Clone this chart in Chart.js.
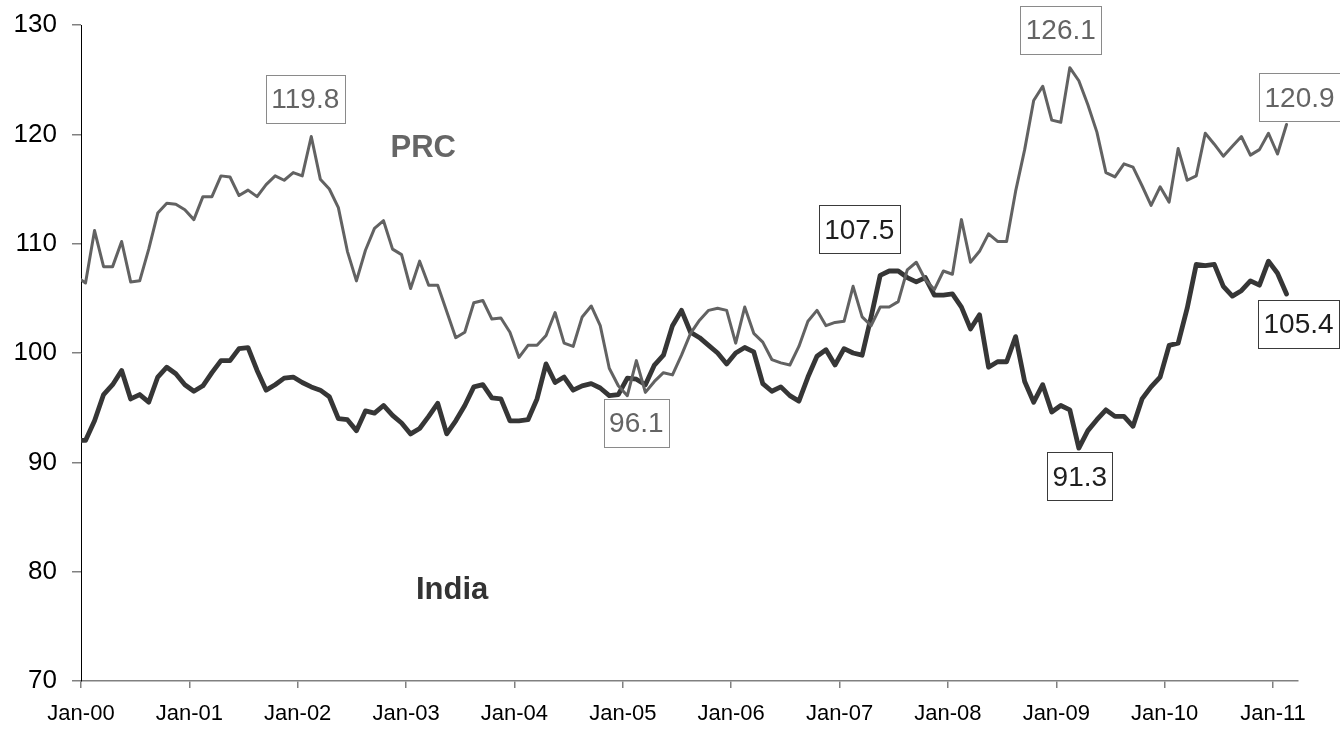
<!DOCTYPE html>
<html><head><meta charset="utf-8">
<script src="https://cdn.jsdelivr.net/npm/chart.js@4/dist/chart.umd.min.js"></script>
<style>html,body{margin:0;padding:0;background:#fff}canvas{display:block}</style>
</head><body>
<canvas id="c" width="1340" height="729"></canvas>
<script>
// Tick labels for the x axis (one per January)
const tickLabels = ['Jan-00','Jan-01','Jan-02','Jan-03','Jan-04','Jan-05','Jan-06','Jan-07','Jan-08','Jan-09','Jan-10','Jan-11'];
const yTicks = [70, 80, 90, 100, 110, 120, 130];

// Monthly index values, Jan-00 .. Feb-11 (one row per year)
const prc = [
  106.4, 111.2, 107.9, 107.9, 110.2, 106.5, 106.6, 109.5, 112.8, 113.7, 113.6, 113.1,
  112.2, 114.3, 114.3, 116.2, 116.1, 114.4, 114.9, 114.3, 115.4, 116.2, 115.8, 116.5,
  116.2, 119.8, 115.9, 115.0, 113.3, 109.3, 106.6, 109.4, 111.4, 112.1, 109.5, 109.0,
  105.9, 108.4, 106.2, 106.2, 103.8, 101.4, 101.9, 104.6, 104.8, 103.1, 103.2, 101.9,
  99.6, 100.7, 100.7, 101.6, 103.7, 100.9, 100.6, 103.3, 104.3, 102.5, 98.6, 97.0,
  96.1, 99.3, 96.4, 97.4, 98.2, 98.0, 99.8, 101.8, 103.0, 103.9, 104.1, 103.9,
  100.9, 104.2, 101.8, 101.0, 99.4, 99.1, 98.9, 100.6, 102.9, 103.9, 102.5, 102.8,
  102.9, 106.1, 103.3, 102.5, 104.2, 104.2, 104.7, 107.6, 108.3, 106.7, 105.8, 107.5,
  107.2, 112.2, 108.3, 109.3, 110.9, 110.2, 110.2, 114.8, 118.6, 123.1, 124.4, 121.3,
  121.1, 126.1, 124.9, 122.7, 120.2, 116.5, 116.1, 117.3, 117.0, 115.3, 113.5, 115.2,
  113.8, 118.7, 115.8, 116.2, 120.1, 119.1, 118.0, 118.9, 119.8, 118.1, 118.6, 120.1,
  118.2, 120.9
];
const india = [
  92.0, 93.8, 96.2, 97.1, 98.4, 95.8, 96.2, 95.5, 97.8, 98.7, 98.1, 97.1,
  96.5, 97.0, 98.2, 99.3, 99.3, 100.4, 100.5, 98.4, 96.6, 97.1, 97.7, 97.8,
  97.3, 96.9, 96.6, 96.0, 94.0, 93.9, 92.9, 94.7, 94.5, 95.2, 94.3, 93.6,
  92.6, 93.1, 94.2, 95.4, 92.6, 93.8, 95.2, 96.9, 97.1, 95.9, 95.8, 93.8,
  93.8, 93.9, 95.8, 99.0, 97.3, 97.8, 96.6, 97.0, 97.2, 96.8, 96.1, 96.2,
  97.7, 97.6, 97.1, 98.9, 99.8, 102.5, 103.9, 101.9, 101.4, 100.7, 100.0, 99.0,
  100.0, 100.5, 100.1, 97.2, 96.5, 96.9, 96.1, 95.6, 97.8, 99.7, 100.3, 98.9,
  100.4, 100.0, 99.8, 103.3, 107.1, 107.5, 107.5, 106.9, 106.5, 106.9, 105.3, 105.3,
  105.4, 104.2, 102.2, 103.5, 98.7, 99.2, 99.2, 101.5, 97.4, 95.5, 97.1, 94.6,
  95.2, 94.8, 91.3, 92.9, 93.9, 94.8, 94.2, 94.2, 93.3, 95.8, 96.9, 97.8,
  100.7, 100.9, 104.1, 108.1, 108.0, 108.1, 106.1, 105.2, 105.7, 106.6, 106.2, 108.4,
  107.3, 105.4
];
// Value partly visible to the left of Jan-00 (Dec-99), clipped by the axis
const prcLead = 107.0;
const indiaLead = 92.0;

// Highlighted values: [series, month index, text]
const callouts = [
  ['prc', 25, '119.8'], ['prc', 109, '126.1'], ['prc', 133, '120.9'], ['prc', 60, '96.1'],
  ['india', 90, '107.5'], ['india', 110, '91.3'], ['india', 133, '105.4']
];
const calloutOffsets = [[-6,-38],[-9,-38],[13,-27],[9,27],[-39,-42],[1,28],[12,30]];

const FONT = '"Liberation Sans", Arial, Helvetica, sans-serif';
const COL = {
  prc: {line:'#626262', text:'#646464', border:'#8a8a8a'},
  india: {line:'#363636', text:'#1e1e1e', border:'#3a3a3a'}
};

function toPoints(lead, arr){
  const pts = [{x: -0.5, y: lead}];
  arr.forEach((v, i) => pts.push({x: i + 0.5, y: v}));
  return pts;
}
const series = {prc, india};

const labelsPlugin = {
  id: 'callouts',
  afterDatasetsDraw(chart){
    const ctx = chart.ctx, xs = chart.scales.x, ys = chart.scales.y;
    ctx.save();
    // series names
    ctx.textAlign = 'center'; ctx.textBaseline = 'middle';
    ctx.font = 'bold 31px ' + FONT;
    ctx.fillStyle = '#666666';
    ctx.fillText('PRC', xs.getPixelForValue(37.9), ys.getPixelForValue(118.7));
    ctx.fillStyle = '#333333';
    ctx.fillText('India', xs.getPixelForValue(41.1), ys.getPixelForValue(78.3));
    // value boxes
    ctx.font = '28px ' + FONT;
    callouts.forEach((c, i) => {
      const [s, k, t] = c;
      const px = xs.getPixelForValue(k + 0.5), py = ys.getPixelForValue(series[s][k]);
      const cx = px + calloutOffsets[i][0], cy = py + calloutOffsets[i][1];
      const w = ctx.measureText(t).width + 11, h = 48;
      ctx.fillStyle = '#ffffff';
      ctx.fillRect(cx - w/2, cy - h/2, w, h);
      ctx.strokeStyle = COL[s].border; ctx.lineWidth = 1;
      ctx.strokeRect(Math.round(cx - w/2) + 0.5, Math.round(cy - h/2) + 0.5, Math.round(w), h);
      ctx.fillStyle = COL[s].text;
      ctx.textAlign = 'center'; ctx.textBaseline = 'alphabetic';
      ctx.fillText(t, cx, cy + 9.5);
    });
    ctx.restore();
  }
};

new Chart(document.getElementById('c'), {
  type: 'line',
  data: {
    datasets: [
      {label: 'PRC', data: toPoints(prcLead, prc), borderColor: COL.prc.line, borderWidth: 3,
       pointRadius: 0, tension: 0, borderJoinStyle: 'round', borderCapStyle: 'round'},
      {label: 'India', data: toPoints(indiaLead, india), borderColor: COL.india.line, borderWidth: 4.8,
       pointRadius: 0, tension: 0, borderJoinStyle: 'round', borderCapStyle: 'round'}
    ]
  },
  options: {
    responsive: false, animation: false,
    layout: {padding: {left: 0, top: 25, right: 42, bottom: 0}},
    plugins: {legend: {display: false}, tooltip: {enabled: false}},
    scales: {
      x: {
        type: 'linear', min: 0, max: 134.77,
        afterFit(s){ s.height = 48; },
        border: {display: true, color: '#808080', width: 1.5},
        grid: {drawOnChartArea: false, drawTicks: true, tickLength: 7, color: '#808080', lineWidth: 1.5},
        ticks: {stepSize: 12, autoSkip: false, maxRotation: 0, includeBounds: false, padding: 13,
          color: '#000', font: {family: FONT, size: 22},
          callback: (v) => (v % 12 === 0 ? tickLabels[v / 12] : '')}
      },
      y: {
        min: yTicks[0], max: yTicks[yTicks.length - 1],
        afterFit(s){ s.width = 81; s.paddingTop = 0; s.paddingBottom = 0; },
        border: {display: true, color: '#000000', width: 1},
        grid: {drawOnChartArea: false, drawTicks: true, tickLength: 9, color: '#808080', lineWidth: 1.5},
        ticks: {stepSize: 10, padding: 15, color: '#000', font: {family: FONT, size: 26}}
      }
    }
  },
  plugins: [labelsPlugin]
});
</script>
</body></html>
